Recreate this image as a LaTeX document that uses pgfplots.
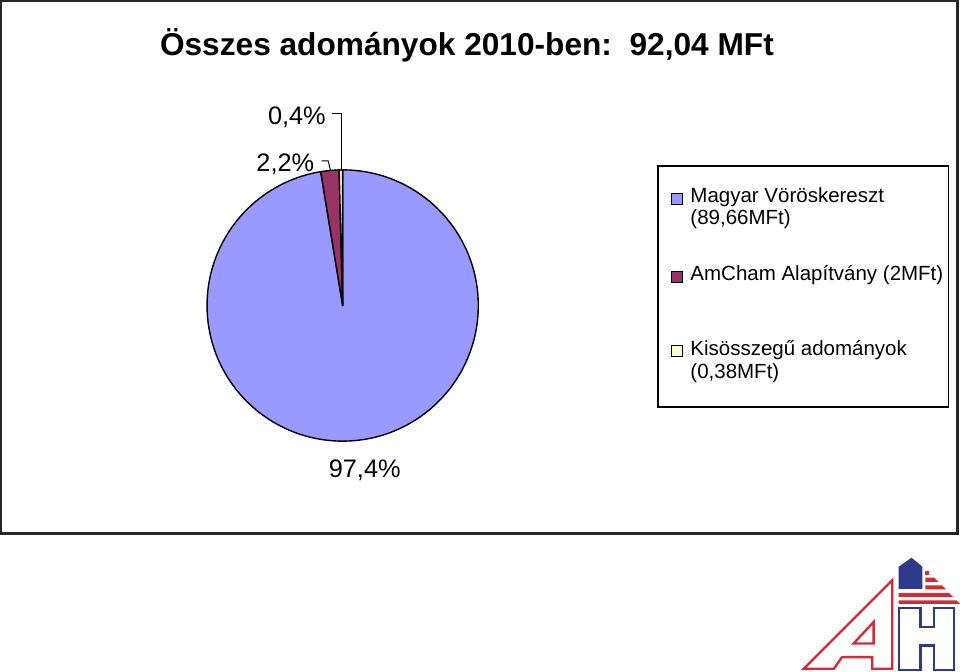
\documentclass[border=0pt]{standalone}
\usepackage{fontspec}
\setmainfont{Liberation Sans}
\usepackage{pgfplots}
\usepackage{pgfplotstable}
\pgfplotsset{compat=1.18}

\definecolor{pieA}{HTML}{9999FF}
\definecolor{pieB}{HTML}{993366}
\definecolor{pieC}{HTML}{FFFFCC}
\definecolor{logored}{HTML}{D12B36}
\definecolor{logoblue}{HTML}{2E3A8C}

\newcommand\lblfont{\fontsize{20.4bp}{24bp}\selectfont}
\newcommand\pctfont{\fontsize{25.2bp}{30bp}\selectfont}

% adomanyok, MFt
\pgfplotstableread{
name value
Magyar 89.66
AmCham 2
Kis 0.38
}\piedata

\begin{document}
\begin{tikzpicture}
\pgfplotstablegetelem{0}{value}\of\piedata \pgfmathsetmacro\va{\pgfplotsretval}
\pgfplotstablegetelem{1}{value}\of\piedata \pgfmathsetmacro\vb{\pgfplotsretval}
\pgfplotstablegetelem{2}{value}\of\piedata \pgfmathsetmacro\vc{\pgfplotsretval}
\pgfmathsetmacro\tot{\va+\vb+\vc}
\pgfmathsetmacro\angA{90-360*(\va/\tot)}
\pgfmathsetmacro\angB{\angA-360*(\vb/\tot)}
\pgfmathsetmacro\angC{\angB-360*(\vc/\tot)}

\begin{axis}[
  scale only axis, width=960bp, height=671bp,
  xmin=0, xmax=960, ymin=0, ymax=671,
  y dir=reverse, hide axis, clip=false,
]
\coordinate (TL) at (axis cs:0,0);
% pie, clockwise from 12 o'clock
\filldraw[fill=pieA, line width=1.4bp, line join=round]
  (axis cs:343,305) -- ++(90:135bp) arc[start angle=90, end angle=\angA, radius=135bp] -- cycle;
\filldraw[fill=pieB, line width=1.4bp, line join=round]
  (axis cs:343,305) -- ++(\angA:135bp) arc[start angle=\angA, end angle=\angB, radius=135bp] -- cycle;
\filldraw[fill=pieC, line width=1.4bp, line join=round]
  (axis cs:343,305) -- ++(\angB:135bp) arc[start angle=\angB, end angle=\angC, radius=135bp] -- cycle;

% legend keys
\addplot[only marks, mark=square*, mark size=5.5bp, mark options={fill=pieA, draw=black, line width=0.8bp}] coordinates {(676,199)};
\addplot[only marks, mark=square*, mark size=5.5bp, mark options={fill=pieB, draw=black, line width=0.8bp}] coordinates {(676,277)};
\addplot[only marks, mark=square*, mark size=5.5bp, mark options={fill=pieC, draw=black, line width=0.8bp}] coordinates {(676,350)};
\end{axis}

\begin{scope}[shift={(TL)}, x=1bp, y=-1bp]
  % frame
  \draw[line width=2.2bp, black!85] (3,2) rectangle (955,532);
  % title
  \node[anchor=base west, inner sep=0, font=\fontsize{31.5bp}{36bp}\selectfont\bfseries]
    at (161,56) {Összes adományok 2010-ben:\ \ 92,04 MFt};

  % slice labels
  \node[anchor=base west, inner sep=0, font=\pctfont] at (268.5,125) {0,4\%};
  \node[anchor=base west, inner sep=0, font=\pctfont] at (257,171.5) {2,2\%};
  \node[anchor=base west, inner sep=0, font=\pctfont] at (329,476) {97,4\%};
  \draw[line width=1bp] (332,114) -- (341.7,114) -- (341.7,171);
  \draw[line width=1bp] (322,161) -- (328.5,161) -- (331,171);

  % legend
  \draw[line width=1.3bp] (657,166) rectangle (946,406);
  \node[anchor=base west, inner sep=0, font=\lblfont] at (689,202) {Magyar Vöröskereszt};
  \node[anchor=base west, inner sep=0, font=\lblfont] at (689,224) {(89,66MFt)};
  \node[anchor=base west, inner sep=0, font=\lblfont] at (689,280) {AmCham Alapítvány (2MFt)};
  \node[anchor=base west, inner sep=0, font=\lblfont] at (689,355) {Kisösszegű adományok};
  \node[anchor=base west, inner sep=0, font=\lblfont] at (689,378) {(0,38MFt)};

  % logo
  \draw[logored, line width=2.3bp, line join=miter]
    (802,666.5) -- (890,578.5) -- (890,666.5) -- (870,666.5) -- (870,655)
    -- (840,655) -- (832,666.5) -- cycle;
  \draw[logored, line width=2.3bp, line join=miter]
    (851.5,641.5) -- (871.5,620) -- (871.5,641.5) -- cycle;
  \draw[logoblue, line width=2.3bp, line join=miter]
    (897,606) -- (918.3,606) -- (918.3,625) -- (931.7,625) -- (931.7,606)
    -- (951.7,606) -- (951.7,668) -- (931.7,668) -- (931.7,643.3)
    -- (918.3,643.3) -- (918.3,668) -- (897,668) -- cycle;
  \fill[logoblue] (896.5,587) -- (896.5,565) -- (909.3,556) -- (920,565) -- (920,587) -- cycle;
  \fill[logored] (923,569) rectangle (927,573);
  \fill[logored] (923,576) -- (932,576) -- (936,580) -- (923,580) -- cycle;
  \fill[logored] (923,583.5) -- (939.5,583.5) -- (943.5,587.5) -- (923,587.5) -- cycle;
  \fill[logored] (896.5,591) -- (946.5,591) -- (950.5,595) -- (896.5,595) -- cycle;
  \fill[logored] (896.5,598.5) -- (954,598.5) -- (957.5,602) -- (896.5,602) -- cycle;
\end{scope}
\end{tikzpicture}
\end{document}
